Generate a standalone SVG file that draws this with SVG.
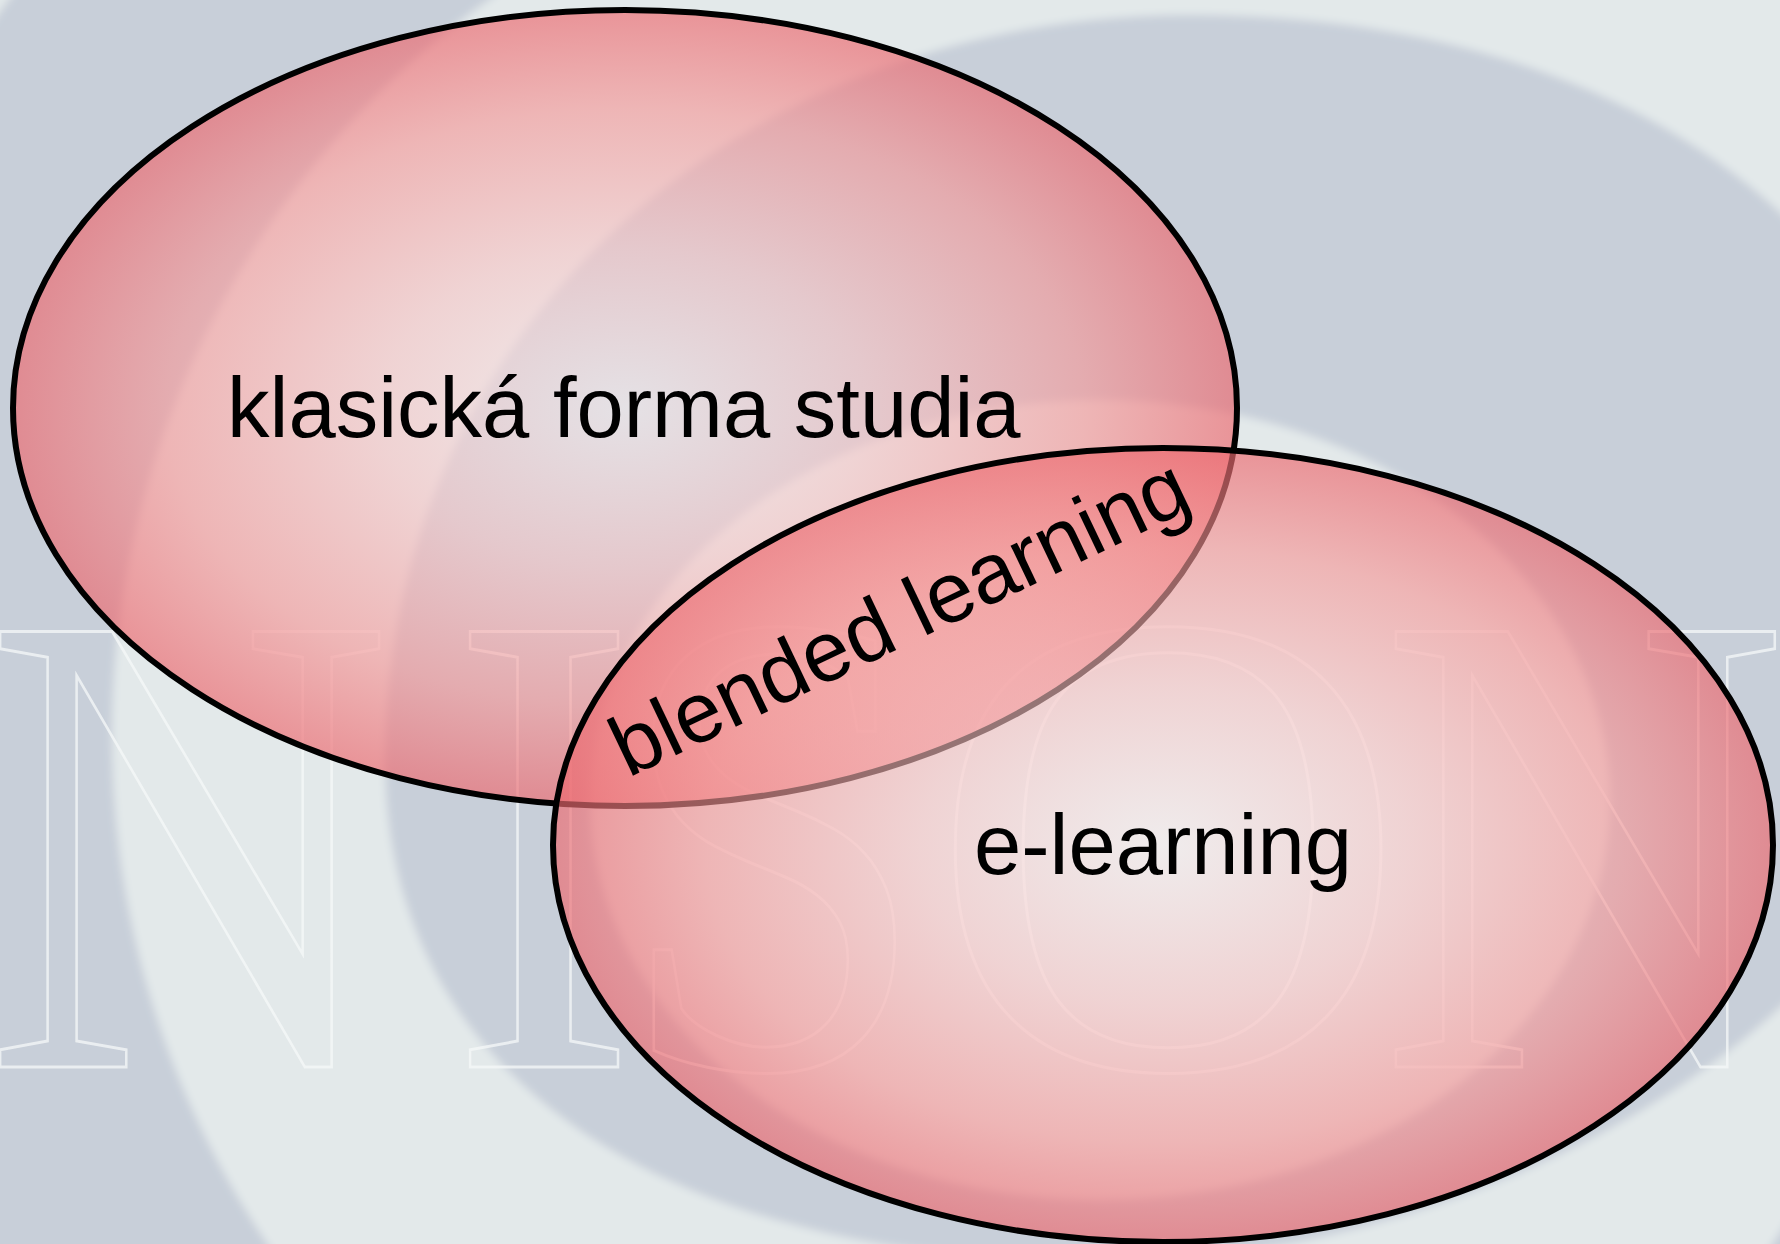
<svg xmlns="http://www.w3.org/2000/svg" width="1780" height="1244" viewBox="0 0 1780 1244">
<defs>
<style>
.lbl{font-family:"Liberation Sans",Arial,sans-serif;font-size:85px;fill:#000}
.ell{stroke:#000;stroke-width:6;fill:url(#pink)}
.wm{font-family:"Liberation Serif","Times New Roman",serif;font-size:665px;fill:none;stroke:#f6f8f8;stroke-opacity:0.75;stroke-width:3}
.light{fill:#e3e9ea}
.gray{fill:#c8cfd9}
</style>
<radialGradient id="pink" cx="0.5" cy="0.5" r="0.5">
<stop offset="0" stop-color="#f8eeee" stop-opacity="0.6"/>
<stop offset="0.4" stop-color="#f8c4c4" stop-opacity="0.6"/>
<stop offset="0.75" stop-color="#f59696" stop-opacity="0.62"/>
<stop offset="1" stop-color="#ec686e" stop-opacity="0.66"/>
</radialGradient>
<filter id="soft" x="-5%" y="-5%" width="110%" height="110%"><feGaussianBlur stdDeviation="4"/></filter>
</defs>
<g id="background" filter="url(#soft)">
<rect class="light" x="-20" y="-20" width="1820" height="1284"/>
<path class="gray" fill-rule="evenodd" d="M -231,736 a1251,1251 0 1 0 2502,0 a1251,1251 0 1 0 -2502,0 Z M 112,736 a908,908 0 1 0 1816,0 a908,908 0 1 0 -1816,0 Z"/>
<polygon class="light" points="1420,-20 1800,-20 1800,240"/>
<path class="gray" d="M 1190,15 C 740,15 385,330 385,760 C 385,1100 700,1262 1100,1262 C 1500,1262 1960,1000 1960,640 C 1960,250 1640,15 1190,15 Z"/>
<ellipse class="light" cx="1100" cy="800" rx="510" ry="400"/>
</g>
<g id="watermark">
<text class="wm" transform="scale(0.85,1)" y="1067" x="-19 529 724">NIS</text>
<text class="wm" y="1067" x="928">O</text>
<text class="wm" transform="scale(0.85,1)" y="1067" x="1623">N</text>
</g>
<g id="connectors"></g>
<g id="node-klasicka">
<ellipse class="ell" cx="625" cy="408" rx="612" ry="398"/>
<text class="lbl" x="227" y="437">klasická forma studia</text>
</g>
<g id="node-elearning">
<ellipse class="ell" cx="1163" cy="845" rx="610" ry="397"/>
<text class="lbl" x="974" y="874">e-learning</text>
</g>
<g id="node-blended">
<text class="lbl" transform="translate(628,778) rotate(-25.5)">blended learning</text>
</g>
</svg>
